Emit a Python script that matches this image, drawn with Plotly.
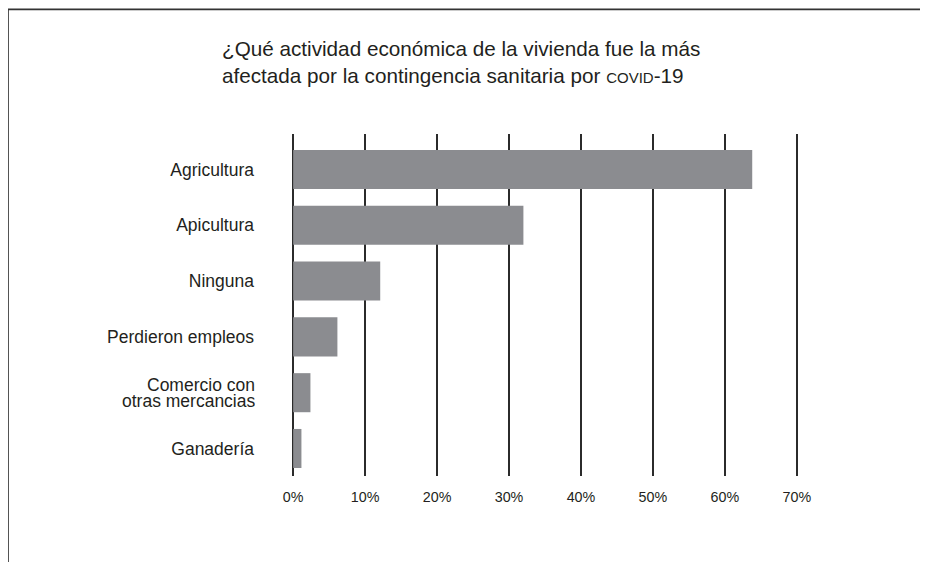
import plotly.graph_objects as go

categories = ["Agricultura", "Apicultura", "Ninguna", "Perdieron empleos",
              "Comercio con otras mercancias", "Ganadería"]
values = [63.8, 32.0, 12.1, 6.15, 2.4, 1.15]
tick_values = [0, 10, 20, 30, 40, 50, 60, 70]
tick_labels = ["0%", "10%", "20%", "30%", "40%", "50%", "60%", "70%"]
title_lines = ["¿Qué actividad económica de la vivienda fue la más",
               "afectada por la contingencia sanitaria por <span style='font-size:15px'>COVID</span>-19"]

FONT = "Liberation Sans, Arial, Helvetica, sans-serif"
W, H = 928, 562
OFF = 8  # page body margin offset
PAD = 0.3
SCALE = (796.7 - 292.7) / 70.0
x0_px = 292.7 - PAD * SCALE - OFF
x1_px = 796.7 + PAD * SCALE - OFF
y0_px = 134 - OFF
y1_px = 476 - OFF
L, R, T, B = x0_px, W - x1_px, y0_px, H - y1_px
pw, ph = W - L - R, H - T - B

def px_x(px):
    return (px - OFF - L) / pw

def px_y(py):
    return (H - B - (py - OFF)) / ph

ytext = [c if c != "Comercio con otras mercancias" else "" for c in categories]

fig = go.Figure()
fig.add_trace(go.Bar(
    x=values, y=categories, orientation="h",
    marker=dict(color="#8b8c90", line=dict(width=0)),
    width=0.7, hoverinfo="x+y",
))

fig.update_layout(
    width=W, height=H,
    margin=dict(l=L, r=R, t=T, b=B),
    paper_bgcolor="white", plot_bgcolor="white",
    showlegend=False,
    font=dict(family=FONT, color="#231f20"),
    xaxis=dict(
        range=[-PAD, 70 + PAD], tickvals=tick_values, ticktext=tick_labels,
        showgrid=True, gridcolor="#2b2b2b", gridwidth=1.6,
        zeroline=False, showline=False, ticks="",
        tickfont=dict(size=14.3, family=FONT, color="#231f20"),
        ticklabelstandoff=11,
    ),
    yaxis=dict(
        type="category", categoryorder="array", categoryarray=categories,
        tickvals=categories, ticktext=ytext,
        range=[5.493, -0.636], showgrid=False, zeroline=False, showline=False,
        ticks="", tickfont=dict(size=17.5, family=FONT, color="#231f20"),
        ticklabelstandoff=int(round(34 + PAD * SCALE)),
    ),
)

# two-line tick label with tight leading
for txt, shift in [("Comercio con", 8.2), ("otras mercancias", -8.2)]:
    fig.add_annotation(
        x=px_x(255.5), xref="paper", xanchor="right",
        y=categories[4], yref="y", yanchor="middle", yshift=shift,
        text=txt, showarrow=False, height=13, valign="middle", borderpad=0,
        font=dict(size=17.5, family=FONT, color="#231f20"),
    )

# title
fig.add_annotation(
    x=px_x(219), xref="paper", xanchor="left", align="left",
    y=px_y(62), yref="paper", yanchor="middle",
    text="<br>".join(title_lines), showarrow=False,
    font=dict(size=20.7, family=FONT, color="#231f20"),
)

# frame lines (top and left)
fig.add_shape(type="line", xref="paper", yref="paper",
              x0=px_x(7.3), x1=px_x(940), y0=px_y(9.3), y1=px_y(9.3),
              line=dict(color="#333333", width=1.8))
fig.add_shape(type="line", xref="paper", yref="paper",
              x0=px_x(7.3), x1=px_x(7.3), y0=px_y(9.3), y1=px_y(575),
              line=dict(color="#333333", width=1.8))

fig.write_html("out.html")
